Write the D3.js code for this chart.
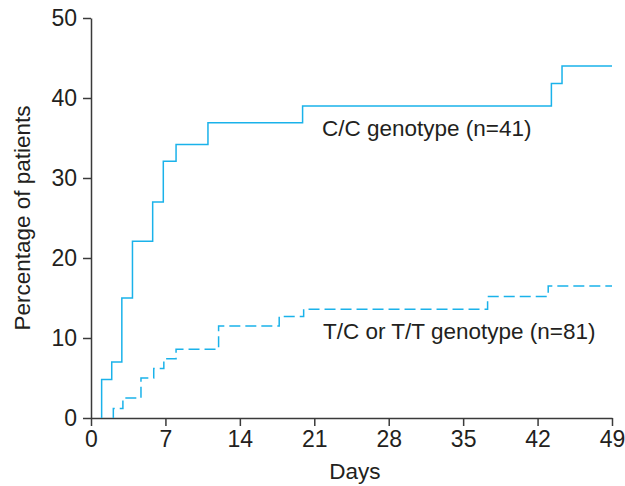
<!DOCTYPE html>
<html>
<head>
<meta charset="utf-8">
<script src="https://cdn.jsdelivr.net/npm/d3@7"></script>
<style>
  html, body { margin: 0; padding: 0; background: #fff; }
  svg { display: block; }
  text { font-family: "Liberation Sans", Arial, Helvetica, sans-serif; fill: #231f20; }
</style>
</head>
<body>
<svg id="chart" width="625" height="486"></svg>
<script>
// Data (cumulative percentage of patients over days)
const ccDays = [1, 1, 1.95, 2.9, 3.9, 5.8, 6.8, 8, 11, 19.9, 43.3, 44.3, 49];
const ccPct  = [0, 4.8, 7.0, 15.0, 22.1, 27.0, 32.1, 34.2, 36.9, 39.0, 41.8, 44.0, 44.0];
const tcDays = [2.1, 2.1, 3.0, 4.7, 5.9, 6.85, 8.0, 12.0, 17.7, 20.0, 37.3, 43.0, 49];
const tcPct  = [0, 1.2, 2.5, 5.0, 6.2, 7.4, 8.6, 11.5, 12.7, 13.6, 15.2, 16.5, 16.5];
const xTicks = [0, 7, 14, 21, 28, 35, 42, 49];
const yTicks = [0, 10, 20, 30, 40, 50];
const seriesLabels = ["C/C genotype (n=41)", "T/C or T/T genotype (n=81)"];
const xTitle = "Days";
const yTitle = "Percentage of patients";

const svg = d3.select("#chart");
const x = d3.scaleLinear().domain([0, 49]).range([91, 612]);
const y = d3.scaleLinear().domain([0, 50]).range([418, 18]);

const axisColor = "#3a3a3a";
const lineColor = "#1ab2ea";

const xAxis = svg.append("g")
  .attr("transform", `translate(0,${y(0)})`)
  .call(d3.axisBottom(x).tickValues(xTicks).tickSize(8).tickSizeOuter(0).tickPadding(5));
const yAxis = svg.append("g")
  .attr("transform", `translate(${x(0)},0)`)
  .call(d3.axisLeft(y).tickValues(yTicks).tickSize(8).tickSizeOuter(0).tickPadding(6));

[xAxis, yAxis].forEach(g => {
  g.selectAll("path.domain").attr("stroke", axisColor).attr("stroke-width", 1.5);
  g.selectAll(".tick line").attr("stroke", axisColor).attr("stroke-width", 1.5);
  g.selectAll(".tick text").style("font-size", "23px")
    .style("font-family", '"Liberation Sans", Arial, sans-serif').attr("fill", "#231f20");
});

const line = d3.line().x(d => x(d[0])).y(d => y(d[1])).curve(d3.curveStepAfter);

svg.append("path")
  .datum(ccDays.map((d, i) => [d, ccPct[i]]))
  .attr("d", line)
  .attr("fill", "none")
  .attr("stroke", lineColor)
  .attr("stroke-width", 1.5);

svg.append("path")
  .datum(tcDays.map((d, i) => [d, tcPct[i]]))
  .attr("d", line)
  .attr("fill", "none")
  .attr("stroke", lineColor)
  .attr("stroke-width", 1.5)
  .attr("stroke-dasharray", "11,5");

svg.append("text")
  .attr("x", 322).attr("y", 136)
  .style("font-size", "22.5px")
  .text(seriesLabels[0]);

svg.append("text")
  .attr("x", 323).attr("y", 339)
  .style("font-size", "22.5px")
  .text(seriesLabels[1]);

svg.append("text")
  .attr("x", 355).attr("y", 479)
  .attr("text-anchor", "middle")
  .style("font-size", "22.5px")
  .text(xTitle);

svg.append("text")
  .attr("transform", "translate(30,218) rotate(-90)")
  .attr("text-anchor", "middle")
  .style("font-size", "22.5px")
  .text(yTitle);
</script>
</body>
</html>
